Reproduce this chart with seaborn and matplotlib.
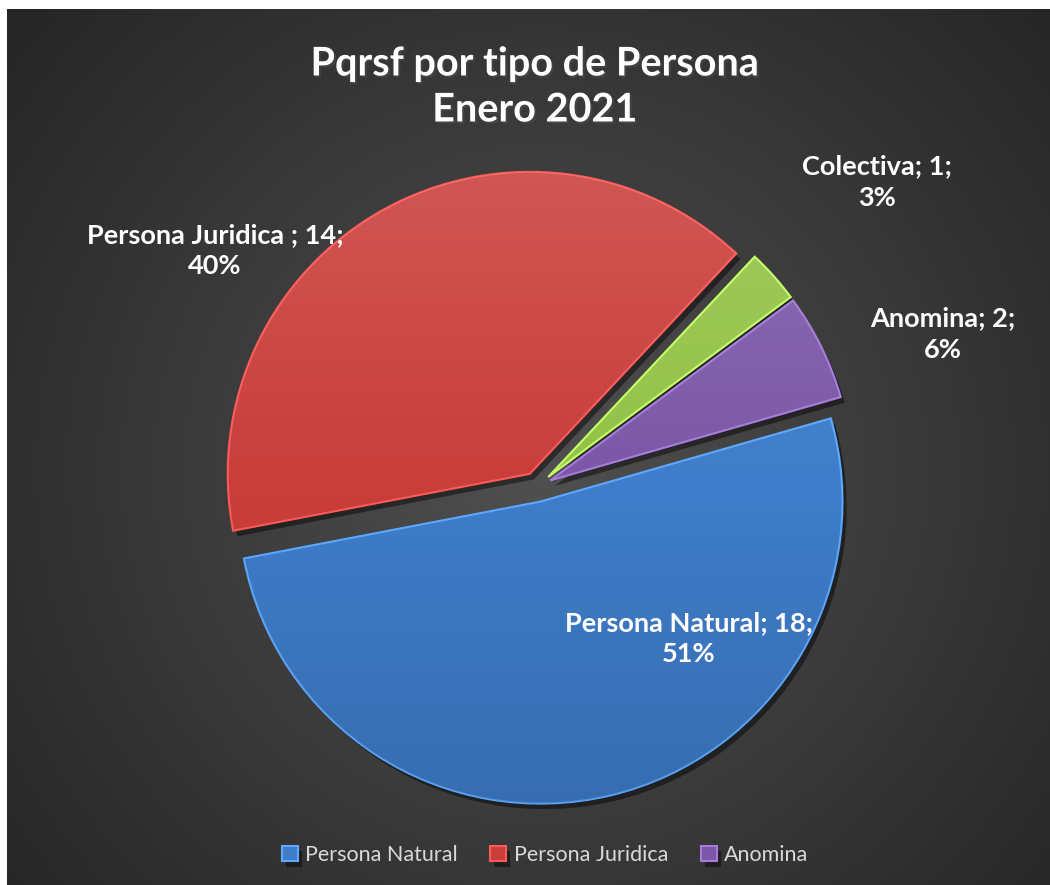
import numpy as np
import matplotlib
matplotlib.use("Agg")
import matplotlib.pyplot as plt
import matplotlib.patheffects as pe
import seaborn as sns

# Data
categories = ["Persona Natural", "Persona Juridica ", "Colectiva", "Anomina"]
values = [18, 14, 1, 2]
legend_names = ["Persona Natural", "Persona Juridica", "Anomina"]
colors = ["#3f7dca", "#c93e3b", "#93c246", "#7b58a6"]

sns.set_theme(style="dark")
plt.rcParams["font.family"] = ["Lato", "DejaVu Sans"]

W, H = 1050, 885
fig = plt.figure(figsize=(W / 100, H / 100), dpi=100, facecolor="white")
ax = fig.add_axes([0, 0, 1, 1])

# radial gradient background (dark chart area with white margin top/left)
xx, yy = np.meshgrid(np.arange(7, W), np.arange(0, H - 9))
d = np.hypot(xx - 540, yy - (H - 470))
shade = np.clip(80 - 40 * d / 650, 38, 80) / 255.0
bg = np.dstack([shade, shade, shade])
ax.imshow(bg, extent=[7, W, 0, H - 9], origin="lower", zorder=0)

# pie (explode is in data units here, since radius is in pixels)
cx, cy, r = 537, H - 487, 302
wedges, _ = ax.pie(values, colors=colors, startangle=16, counterclock=False,
                   explode=[15] * len(values), radius=r, center=(cx, cy),
                   wedgeprops=dict(linewidth=1.5, zorder=2))

for w, c in zip(wedges, colors):
    lc = tuple(min(1, v * 1.25 + 0.05) for v in matplotlib.colors.to_rgb(c))
    w.set_edgecolor(lc)
    w.set_path_effects([pe.SimplePatchShadow(offset=(3, -4), shadow_rgbFace="black", alpha=0.45),
                        pe.Normal()])
    # soft lighting: lighter on top, darker below
    t = np.linspace(0, 1, 200)
    ov = np.zeros((200, 1, 4))
    ov[:, 0, :3] = np.where(t[:, None] < 0.5, 1.0, 0.0)
    ov[:, 0, 3] = 0.14 * np.abs(1 - 2 * t)
    im = ax.imshow(ov, extent=[cx - r - 40, cx + r + 40, cy - r - 40, cy + r + 40],
                   origin="upper", aspect="auto", zorder=3)
    im.set_clip_path(w)

ax.set_xlim(0, W)
ax.set_ylim(0, H)
ax.set_aspect("auto")
ax.axis("off")

# data labels
total = sum(values)
label_pos = [(689, 639), (215, 251), (877, 182), (943, 334)]
for name, v, (px, py) in zip(categories, values, label_pos):
    ax.text(px, H - py, f"{name}; {v};\n{round(100 * v / total)}%", ha="center", va="center",
            color="white", fontsize=19.5, fontweight="bold", linespacing=1.35, zorder=5)

# title
fig.text(535 / W, 1 - 87 / H, "Pqrsf por tipo de Persona\nEnero 2021", ha="center", va="center",
         color="white", fontsize=28.5, fontweight="bold", linespacing=1.3,
         path_effects=[pe.withSimplePatchShadow(offset=(1.5, -1.5), alpha=0.5)])

# legend (Colectiva is not shown in the original legend)
leg = ax.legend([wedges[0], wedges[1], wedges[3]], legend_names, loc="center",
                bbox_to_anchor=(545 / W, 1 - 855 / H), ncol=3, frameon=False,
                fontsize=15.5, handlelength=0.75, handleheight=0.75, handletextpad=0.35,
                columnspacing=1.5, labelcolor="#d9d9d9")

fig.savefig("out.png", dpi=100, facecolor="white")
